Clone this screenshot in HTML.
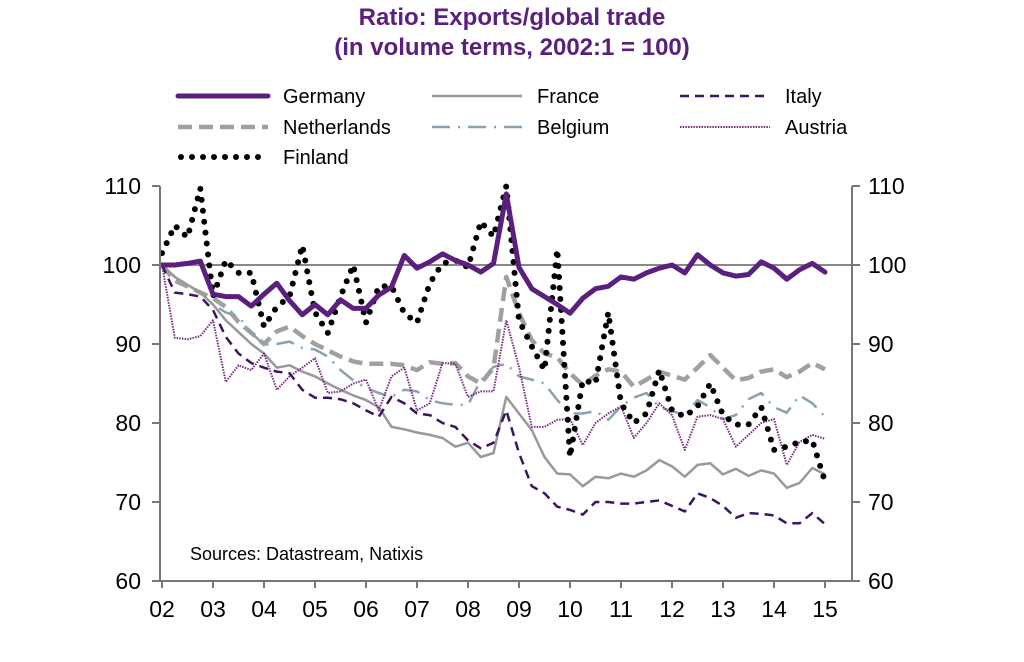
<!DOCTYPE html>
<html><head><meta charset="utf-8">
<style>
html,body{margin:0;padding:0;background:#fff;}
svg{display:block;font-family:"Liberation Sans",Arial,sans-serif;}
</style></head>
<body>
<svg id="chart" width="1024" height="662" viewBox="0 0 1024 662" xmlns="http://www.w3.org/2000/svg">
<text x="512" y="25" text-anchor="middle" font-size="24" font-weight="bold" fill="#5b1f7d">Ratio: Exports/global trade</text>
<text x="512" y="55" text-anchor="middle" font-size="24" font-weight="bold" fill="#5b1f7d">(in volume terms, 2002:1 = 100)</text>
<g id="legend" font-size="20" fill="#000"></g>
<g id="plot"></g>
<text x="190" y="560" font-size="18" fill="#000">Sources: Datastream, Natixis</text>
</svg>
<script>
const yearLabels = ["02","03","04","05","06","07","08","09","10","11","12","13","14","15"];
const yTicks = [60,70,80,90,100,110];
const germany = [100,100,100.2,100.5,96.3,96,96,94.8,96.3,97.7,95.5,93.7,95,93.7,95.6,94.5,94.5,96.2,97.2,101.2,99.6,100.4,101.4,100.6,100,99.1,100.2,109,99.7,97,96,95,93.9,95.8,97,97.3,98.5,98.2,99,99.6,100,99,101.3,100,99,98.6,98.8,100.4,99.6,98.2,99.4,100.2,99.1];
const france = [100,98.5,97.5,96.5,95,93,91.5,90,88.8,87,87.3,86.5,85.9,85,84.2,83.5,82.9,82,79.5,79.2,78.8,78.5,78.1,77,77.5,75.7,76.2,83.3,81.2,79.1,75.7,73.6,73.5,72,73.2,73,73.6,73.2,74,75.3,74.5,73.2,74.7,74.9,73.5,74.2,73.3,74,73.6,71.8,72.4,74.3,73.5];
const italy = [100,96.5,96.3,96,94.3,90.9,88.8,87.6,87,86.5,86.3,84.2,83.2,83.2,83,82.5,81.6,80.8,83.3,82.5,81.2,81,80,79.5,77.8,76.8,77.5,81.6,76.2,72,71.1,69.4,69,68.4,70,70,69.8,69.8,70,70.2,69.5,68.8,71.1,70.5,69.5,68,68.6,68.5,68.3,67.3,67.3,68.6,67.2];
const netherlands = [100,98,97.3,96.5,95.8,94.7,92.8,91.4,90,91.6,92.2,91,90,89.2,88.4,87.8,87.5,87.5,87.5,87.3,86.7,87.7,87.5,87.6,85.9,85,87,98.5,93.9,90.5,88.8,88.3,86.3,84.8,86,86.8,86.5,84.6,85.5,86.5,86,85.5,87,88.6,87,85.4,85.7,86.5,86.8,85.8,86.5,87.6,86.8];
const belgium = [100,98.5,97.5,96.5,95,94,93.5,91.4,89.9,90,90.3,89.5,89.3,88.4,86.7,85.4,84.4,83.8,83.3,84.2,84,82.9,82.5,82.3,82.3,85.4,87.1,87.5,85.9,85.5,85,82.9,81.2,81.2,81.5,80.4,82.1,83.2,83.8,82,81.5,81,82.9,82,80.5,81,83,83.8,82,81.3,83.5,82.5,80.8];
const austria = [100,90.8,90.6,91,93,85.2,87.3,86.7,88.8,84.2,85.9,87,88.2,83.8,84,85,85.5,81.6,85.9,87,81.6,82.5,87.6,87.5,83.3,84,84,93,87.1,79.5,79.5,80.4,80.5,77.2,80,81.2,82.1,78.1,80,82.5,81,76.6,80.8,81,80.5,77,78.5,80,80.5,74.7,77.6,78.5,78];
const finland = [101.5,105,103.5,109.7,96,100.6,99,99,92.2,94.7,96,102.5,94,91.4,96,100,92.7,97.3,97.3,93.9,92.7,97.7,100.2,100.6,99.7,105.5,103.6,110,93,89.7,86.7,102,75.7,85.4,85,94,82.5,80,81.2,86.7,81.6,80.8,82.1,85,81,79.8,79.8,82,76.6,77,77.6,77.8,72.6];

const NS="http://www.w3.org/2000/svg";
const X0=162, X1=825, YTOP=186, YBOT=581, YMIN=60, YMAX=110;
const xQ = i => X0 + i*(X1-X0)/52;
const xYear = k => X0 + k*(X1-X0)/13;
const yV = v => YBOT - (v-YMIN)*(YBOT-YTOP)/(YMAX-YMIN);
function mk(tag, attrs, parent){const e=document.createElementNS(NS,tag);for(const k in attrs)e.setAttribute(k,attrs[k]);parent.appendChild(e);return e;}
const plot=document.getElementById('plot');

const g100=mk('line',{x1:160,x2:852,y1:yV(100),y2:yV(100),stroke:'#888','stroke-width':2},plot);



const styles = {
 netherlands:{stroke:'#a0a0a0',w:4.5,dash:'14 7',cap:'butt'},
 belgium:{stroke:'#8aa2b0',w:2.5,dash:'18 8 2 8',cap:'butt'},
 france:{stroke:'#999',w:2.5,dash:'',cap:'butt'},
 austria:{stroke:'#7a2a82',w:2,dash:'1.5 1.2',cap:'butt'},
 italy:{stroke:'#3d1460',w:2.5,dash:'9 6',cap:'butt'},
 finland:{stroke:'#000',w:6,dash:'0 11',cap:'round'},
 germany:{stroke:'#5b1f7d',w:5,dash:'',cap:'round'}
};
const seriesData={netherlands,belgium,france,austria,italy,finland,germany};
for(const key of ['netherlands','belgium','france','austria','italy','finland','germany']){
  const s=styles[key], d=seriesData[key];
  const pts=d.map((v,i)=>xQ(i).toFixed(1)+','+yV(v).toFixed(1)).join(' ');
  const pl=mk('polyline',{points:pts,fill:'none',stroke:s.stroke,'stroke-width':s.w,'stroke-dasharray':s.dash,'stroke-linecap':s.cap,'stroke-linejoin':'round'},plot);
  
  
}

const axL=mk('line',{x1:160,x2:160,y1:YTOP,y2:YBOT,stroke:'#777','stroke-width':2},plot);


const axR=mk('line',{x1:852,x2:852,y1:YTOP,y2:YBOT,stroke:'#777','stroke-width':2},plot);


const axB=mk('line',{x1:160,x2:852,y1:YBOT,y2:YBOT,stroke:'#777','stroke-width':2},plot);



for(const t of yTicks){
  const y=yV(t);
  mk('line',{x1:152,x2:160,y1:y,y2:y,stroke:'#777','stroke-width':2},plot);
  mk('line',{x1:852,x2:860,y1:y,y2:y,stroke:'#777','stroke-width':2},plot);
  const tl=mk('text',{x:141,y:y+8,'text-anchor':'end','font-size':23},plot);
  tl.textContent=t;
  
  
  const tr=mk('text',{x:868,y:y+8,'text-anchor':'start','font-size':23},plot);
  tr.textContent=t;
  
  
}
yearLabels.forEach((lab,k)=>{
  const x=xYear(k);
  mk('line',{x1:x,x2:x,y1:YBOT,y2:YBOT+7,stroke:'#777','stroke-width':2},plot);
  const t=mk('text',{x:x,y:617,'text-anchor':'middle','font-size':23},plot);
  t.textContent=lab;
  
  
});

const legend=document.getElementById('legend');
const legItems=[
 ['germany','Germany',178,96],['france','France',432,96],['italy','Italy',680,96],
 ['netherlands','Netherlands',178,127],['belgium','Belgium',432,127],['austria','Austria',680,127],
 ['finland','Finland',178,157]];
for(const [key,label,x,y] of legItems){
  const s=styles[key];
  const ln=mk('line',{x1:x+(key==='finland'?3:0),x2:x+90,y1:y,y2:y,stroke:s.stroke,'stroke-width':s.w,'stroke-dasharray':s.dash,'stroke-linecap':s.cap},legend);
  
  
  const t=mk('text',{x:x+105,y:y+7,'font-size':20},legend);
  t.textContent=label;
  
  
}
</script>
</body></html>
